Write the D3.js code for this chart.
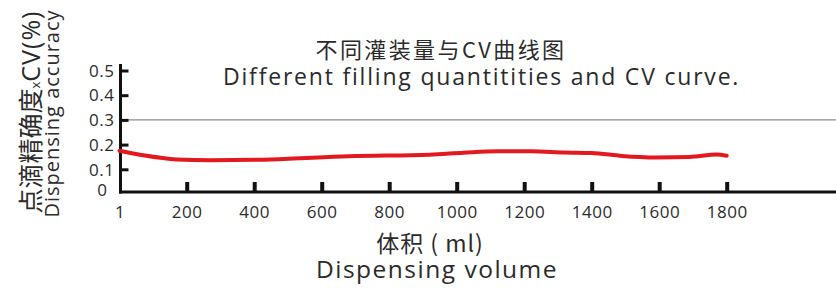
<!DOCTYPE html>
<html>
<head>
<meta charset="utf-8">
<script src="https://cdn.jsdelivr.net/npm/d3@7"></script>
<style>
  body { margin: 0; background: #fff; }
  svg { display: block; }
  text { fill: #2b2b2b; font-family: "Open Sans", sans-serif; }
  .cjk { font-family: "Noto Sans CJK SC", sans-serif; }
</style>
</head>
<body>
<div id="chart"></div>
<script>
// Volume (ml) vs CV (%)
const volumes = [1, 70, 170, 270, 450, 680, 920, 1020, 1120, 1220, 1320, 1400, 1490, 1590, 1690, 1770, 1800];
const cvValues = [0.175, 0.157, 0.140, 0.137, 0.140, 0.153, 0.159, 0.167, 0.173, 0.173, 0.168, 0.166, 0.154, 0.148, 0.150, 0.160, 0.155];
const xTicks = [1, 200, 400, 600, 800, 1000, 1200, 1400, 1600, 1800];
const yTicks = [0, 0.1, 0.2, 0.3, 0.4, 0.5];
const refValue = 0.3;

const width = 836, height = 288;

const svg = d3.select("#chart").append("svg")
  .attr("width", width)
  .attr("height", height);

const x = d3.scaleLinear().domain([0, 1800]).range([119.2, 726.7]);
const y = d3.scaleLinear().domain([0, 0.5]).range([194, 70.5]);

const axisY = 192; // where the bottom axis line sits
const axisX = 120.5;

// Reference line at 0.3
svg.append("line")
  .attr("x1", axisX).attr("x2", width)
  .attr("y1", y(refValue)).attr("y2", y(refValue))
  .attr("stroke", "#8c8c8c")
  .attr("stroke-width", 1.2);

// Y axis: ticks point inward, labels on the left
const yAxis = svg.append("g")
  .attr("transform", `translate(${axisX},0)`)
  .call(d3.axisLeft(y).tickValues(yTicks).tickSize(-8).tickPadding(6)
    .tickFormat((d) => (d === 0 ? "0" : d3.format(".1f")(d))));
yAxis.select(".domain").remove();
yAxis.selectAll(".tick line")
  .attr("stroke", "#111")
  .attr("stroke-width", 3)
  .style("display", (d) => (d === 0 ? "none" : null));
yAxis.selectAll(".tick text")
  .attr("fill", "#2b2b2b")
  .attr("font-family", null)
  .style("font-size", "17px")
  .style("letter-spacing", "0.5px")
  .attr("dx", (d) => (d === 0 ? -7 : 0))
  .attr("dy", (d) => (d === 0 ? "0.1em" : "0.34em"));

// X axis: ticks point up
const xAxis = svg.append("g")
  .attr("transform", `translate(0,${axisY})`)
  .call(d3.axisBottom(x).tickValues(xTicks).tickSize(-10).tickPadding(14)
    .tickFormat((d) => String(d)));
xAxis.select(".domain").remove();
xAxis.selectAll(".tick line")
  .attr("stroke", "#111")
  .attr("stroke-width", 4)
  .style("display", (d) => (d === 1 ? "none" : null));
xAxis.selectAll(".tick text")
  .attr("fill", "#2b2b2b")
  .attr("font-family", null)
  .style("font-size", "17px")
  .style("letter-spacing", "0.5px");

// Axis lines
svg.append("line")
  .attr("x1", axisX).attr("x2", axisX)
  .attr("y1", 64).attr("y2", axisY + 1.5)
  .attr("stroke", "#111").attr("stroke-width", 3);
svg.append("line")
  .attr("x1", axisX - 1.5).attr("x2", width)
  .attr("y1", axisY).attr("y2", axisY)
  .attr("stroke", "#111").attr("stroke-width", 3);

// CV curve
const line = d3.line()
  .x((d, i) => x(volumes[i]))
  .y((d) => y(d))
  .curve(d3.curveMonotoneX);

svg.append("path")
  .datum(cvValues)
  .attr("d", line)
  .attr("fill", "none")
  .attr("stroke", "#e2191f")
  .attr("stroke-width", 4)
  .attr("stroke-linecap", "round");

// Titles
svg.append("text")
  .attr("class", "cjk")
  .attr("x", 441).attr("y", 58)
  .attr("text-anchor", "middle")
  .style("font-size", "22px")
  .style("letter-spacing", "2.4px")
  .text("不同灌装量与CV曲线图");

svg.append("text")
  .attr("x", 223).attr("y", 84.5)
  .style("font-size", "23px")
  .style("letter-spacing", "1.8px")
  .text("Different filling quantitities and CV curve.");

// X axis title
svg.append("text")
  .attr("class", "cjk")
  .attr("x", 430).attr("y", 252)
  .attr("text-anchor", "middle")
  .style("font-size", "23px")
  .style("letter-spacing", "1px")
  .text("体积 ( ml)");

svg.append("text")
  .attr("x", 437).attr("y", 277.5)
  .attr("text-anchor", "middle")
  .style("font-size", "24.5px")
  .style("letter-spacing", "1.5px")
  .text("Dispensing volume");

// Y axis title (two rotated lines)
const yTitle1 = svg.append("text")
  .attr("transform", "translate(40,112) rotate(-90)")
  .attr("text-anchor", "middle")
  .style("font-size", "25px");
yTitle1.append("tspan").attr("class", "cjk").text("点滴精确度");
yTitle1.append("tspan").style("font-size", "13px").text("x");
yTitle1.append("tspan").style("letter-spacing", "1px").text("CV(%)");

svg.append("text")
  .attr("transform", "translate(59,113.5) rotate(-90)")
  .attr("text-anchor", "middle")
  .style("font-size", "20px")
  .style("letter-spacing", "1px")
  .text("Dispensing accuracy");
</script>
</body>
</html>
